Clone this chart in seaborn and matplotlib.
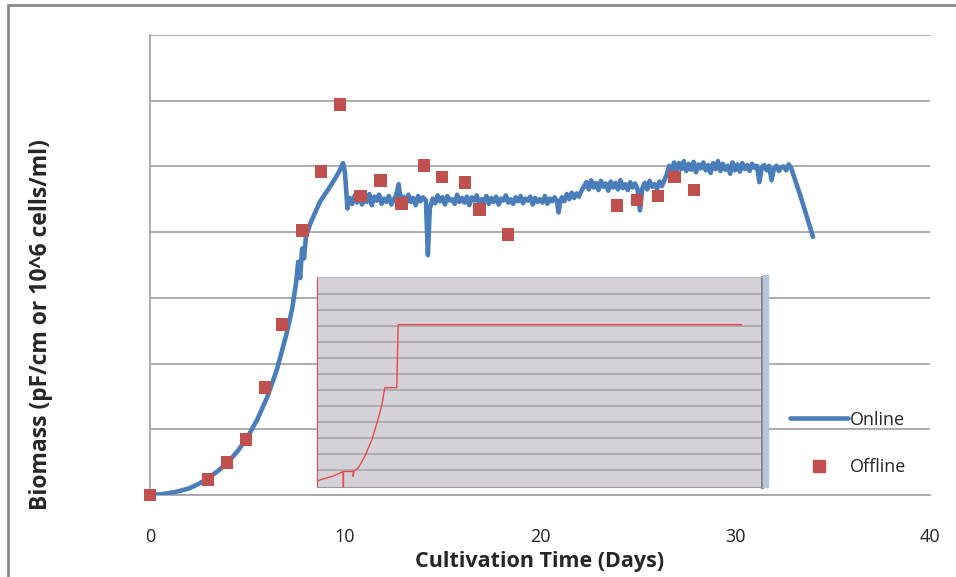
import matplotlib
matplotlib.use("Agg")
import matplotlib.pyplot as plt
import seaborn as sns
import pandas as pd
from matplotlib.lines import Line2D
from matplotlib.ticker import MultipleLocator

# online probe trace (days, biomass)
growth_day = [0, 0.5, 1.0, 1.5, 2.0, 2.5, 3.0, 3.5, 4.0, 4.5, 5.0, 5.5, 6.0, 6.5, 7.0, 7.3,
              7.5, 7.6, 7.7, 7.8, 7.9, 8.0, 8.25, 8.5, 8.75, 9.0, 9.25, 9.5, 9.75, 9.9, 10.0]
growth_biomass = [0.0, 0.1, 0.3, 0.6, 1.0, 1.7, 2.6, 3.7, 5.0, 6.7, 8.8, 11.5, 14.8, 19.0, 24.5, 28.5,
                  32.5, 35.5, 33.0, 37.5, 36.0, 39.5, 41.5, 43.2, 44.8, 45.9, 47.0, 48.2, 49.5, 50.5, 49.0]

plateau1_day = [10.125, 10.25, 10.375, 10.5, 10.625, 10.75, 10.875, 11.0, 11.125, 11.25, 11.375,
                11.5, 11.625, 11.75, 11.875, 12.0, 12.125, 12.25, 12.375, 12.5, 12.625, 12.75,
                12.875, 13.0, 13.125, 13.25, 13.375, 13.5, 13.625, 13.75, 13.875, 14.0,
                14.15, 14.25, 14.35]
plateau1_biomass = [43.6, 45.2, 44.3, 45.6, 44.5, 45.9, 44.2, 45.3, 44.6, 45.8, 44.1,
                    45.4, 44.8, 45.7, 44.3, 45.1, 44.6, 45.5, 44.2, 45.0, 45.6, 47.3,
                    44.5, 45.4, 44.3, 45.7, 44.6, 45.2, 44.1, 45.5, 44.7, 45.3,
                    44.8, 36.5, 43.6]

plateau2_day = [14.5, 14.625, 14.75, 14.875, 15.0, 15.125, 15.25, 15.375, 15.5, 15.625,
                15.75, 15.875, 16.0, 16.125, 16.25, 16.375, 16.5, 16.625, 16.75, 16.875,
                17.0, 17.125, 17.25, 17.375, 17.5, 17.625, 17.75, 17.875, 18.0, 18.125,
                18.25, 18.375, 18.5, 18.625, 18.75, 18.875, 19.0, 19.125, 19.25, 19.375,
                19.5, 19.625, 19.75, 19.875, 20.0, 20.125, 20.25, 20.375, 20.5, 20.625,
                20.75, 20.875, 20.95, 21.05, 21.125, 21.25, 21.375, 21.5, 21.625, 21.75,
                21.875, 22.0, 22.125]
plateau2_biomass = [45.1, 44.4, 45.6, 44.7, 45.3, 44.2, 45.5, 44.8, 45.0, 44.3,
                    45.7, 44.6, 45.2, 44.5, 45.4, 44.1, 45.3, 44.8, 45.6, 44.4,
                    45.0, 44.7, 45.5, 44.3, 45.2, 44.6, 45.4, 44.2, 45.1, 44.8,
                    45.6, 44.5, 45.0, 44.3, 45.3, 44.7, 45.5, 44.4, 45.1, 44.8,
                    45.4, 44.2, 45.2, 44.6, 45.0, 44.5, 45.5, 44.3, 45.1, 44.7,
                    45.3, 44.6, 43.0, 44.9, 45.3, 44.7, 45.8, 45.0, 46.0, 45.2,
                    45.9, 45.4, 46.3]

plateau3_day = [22.25, 22.375, 22.5, 22.625, 22.75, 22.875, 23.0, 23.125, 23.25, 23.375,
                23.5, 23.625, 23.75, 23.875, 24.0, 24.125, 24.25, 24.375, 24.5, 24.625,
                24.75, 24.875, 25.0, 25.125, 25.25, 25.375, 25.5, 25.625, 25.75, 25.875,
                26.0, 26.125, 26.25, 26.375]
plateau3_biomass = [46.9, 47.6, 46.5, 47.9, 46.8, 47.5, 46.4, 47.8, 46.9, 47.4,
                    46.3, 47.7, 46.8, 47.5, 46.5, 47.9, 46.7, 47.3, 46.4, 47.6,
                    46.8, 47.4, 46.6, 43.3, 46.7, 47.5, 46.5, 47.8, 46.9, 47.3,
                    46.6, 47.7, 47.0, 47.9]

plateau4_day = [26.5, 26.625, 26.75, 26.875, 27.0, 27.125, 27.25, 27.375, 27.5, 27.625,
                27.75, 27.875, 28.0, 28.125, 28.25, 28.375, 28.5, 28.625, 28.75, 28.875,
                29.0, 29.125, 29.25, 29.375, 29.5, 29.625, 29.75, 29.875, 30.0, 30.125,
                30.25, 30.375, 30.5, 30.625, 30.75, 30.875, 31.0, 31.125, 31.25, 31.375,
                31.5, 31.625, 31.75, 31.875, 32.0, 32.125, 32.25, 32.375, 32.5, 32.625,
                32.75, 32.875, 33.1, 33.4, 33.7, 34.0]
plateau4_biomass = [48.8, 50.1, 49.4, 50.6, 49.2, 50.5, 49.6, 50.8, 49.3, 50.4,
                    49.5, 50.7, 49.1, 50.3, 49.7, 50.6, 49.4, 50.2, 49.0, 50.5,
                    49.6, 50.8, 49.3, 50.4, 49.5, 50.1, 48.9, 50.6, 49.4, 50.3,
                    49.2, 50.5, 49.6, 50.2, 49.3, 50.4, 49.8, 50.1, 47.6, 49.9,
                    50.2, 49.4, 50.1, 47.9, 49.7, 50.1, 49.3, 49.9, 50.0, 49.4,
                    50.3, 49.8, 47.8, 45.1, 42.2, 39.3]

# offline samples
offline_day = [0, 2.97, 3.95, 4.92, 5.9, 6.77, 7.8, 8.77, 9.74, 10.8, 11.8, 12.9, 14.05,
               14.97, 16.15, 16.9, 18.36, 23.95, 24.97, 26.05, 26.9, 27.9]
offline_biomass = [0, 2.3, 5.0, 8.5, 16.4, 25.9, 40.2, 49.2, 59.4, 45.5, 47.9, 44.3, 50.1,
                   48.4, 47.5, 43.5, 39.6, 44.1, 44.9, 45.5, 48.4, 46.4]

# small embedded chart
inset_x = [0, 3.5, 6.0, 6.0, 6.0, 8.2, 8.2, 8.4, 9.4, 10.9, 12.4, 13.6, 14.6, 15.3, 18.0, 18.3, 95.5]
inset_y = [0.31, 0.6, 0.9, -0.2, 0.9, 0.9, 0.6, 0.95, 1.15, 1.9, 2.9, 4.0, 5.0, 6.15, 6.15, 10.1, 10.1]

x_ticks = [0, 10, 20, 30, 40]

BLUE = "#4a7ebb"
RED = "#c0504d"
GRID = "#a6a6a6"


def draw_main(fig):
    ax = fig.add_axes([150 / 956, 1 - 495 / 577, 780 / 956, 460 / 577])
    online = pd.DataFrame({
        "day": growth_day + plateau1_day + plateau2_day + plateau3_day + plateau4_day,
        "biomass": growth_biomass + plateau1_biomass + plateau2_biomass + plateau3_biomass + plateau4_biomass,
    })
    offline = pd.DataFrame({"day": offline_day, "biomass": offline_biomass})

    sns.lineplot(data=online, x="day", y="biomass", ax=ax, color=BLUE, linewidth=3.3,
                 estimator=None, zorder=3)
    sns.scatterplot(data=offline, x="day", y="biomass", ax=ax, color=RED, marker="s", s=85,
                    edgecolor="none", zorder=4, clip_on=False)

    ax.set_xlim(0, 40)
    ax.set_ylim(0, 70)
    ax.set_xticks(x_ticks)
    ax.set_yticks(range(0, 71, 10))
    ax.set_yticklabels([])
    ax.grid(axis="y", color=GRID, linewidth=1.3)
    ax.grid(axis="x", visible=False)
    ax.set_axisbelow(True)
    for side in ["top", "right"]:
        ax.spines[side].set_visible(False)
    for side in ["left", "bottom"]:
        ax.spines[side].set_color(GRID)
        ax.spines[side].set_linewidth(1.3)
    ax.tick_params(axis="both", direction="out", length=6, width=1.2, color=GRID,
                   labelsize=13, labelcolor="#222222")
    ax.tick_params(axis="x", pad=18)

    ax.set_xlabel("Cultivation Time (Days)", fontsize=15.5, fontweight="bold")
    ax.xaxis.set_label_coords(0.5, -0.122)
    ax.set_ylabel("Biomass (pF/cm or 10^6 cells/ml)", fontsize=16.5, fontweight="bold")
    ax.yaxis.set_label_coords(-0.124, 0.37)

    handles = [Line2D([], [], color=BLUE, linewidth=3.3),
               Line2D([], [], color=RED, marker="s", markersize=8, linestyle="none")]
    ax.legend(handles, ["Online", "Offline"], loc="center left", bbox_to_anchor=(0.8, 0.112),
              frameon=False, fontsize=13, handlelength=3.2, handletextpad=0.1, labelspacing=1.65)
    return ax


def draw_inset(fig):
    ins = fig.add_axes([316.7 / 956, 1 - 486.7 / 577, 445 / 956, 210 / 577])
    ins.set_facecolor("#d5d1d8")
    sns.lineplot(x=inset_x, y=inset_y, ax=ins, color="#e8484a", linewidth=1.0,
                 sort=False, estimator=None)
    ins.set_xlim(0, 100)
    ins.set_ylim(-0.05, 13.1)
    ins.set_yticks(range(1, 13))
    ins.set_yticklabels([])
    ins.yaxis.set_minor_locator(MultipleLocator(0.25))
    ins.set_xticks([])
    ins.xaxis.set_minor_locator(MultipleLocator(2.2))
    ins.grid(axis="y", color="#a3a1a6", linewidth=1.1)
    ins.tick_params(axis="y", which="major", length=0)
    ins.tick_params(axis="y", which="minor", length=2, color="#e8484a", direction="in")
    ins.tick_params(axis="x", which="minor", length=3, color="#9a9a9a", direction="in")
    ins.spines["left"].set_color("#e8484a")
    ins.spines["bottom"].set_color("#9a9a9a")
    ins.spines["top"].set_color("#b8b6ba")
    ins.spines["right"].set_color("#858588")
    ins.spines["right"].set_linewidth(2.2)
    ins.set_xlabel("")
    ins.set_ylabel("")
    # shadow strip on the right
    fig.add_artist(plt.Rectangle((763 / 956, 1 - 487 / 577), 4.5 / 956, 212 / 577,
                                 transform=fig.transFigure, color="#b3c6da", zorder=1))
    return ins


def main():
    sns.set_style("white")
    plt.rcParams["font.family"] = ["Open Sans", "DejaVu Sans"]
    fig = plt.figure(figsize=(9.56, 5.77), dpi=100)

    draw_main(fig)
    draw_inset(fig)

    # outer frame of the pasted chart
    fig.add_artist(Line2D([8 / 956, 1], [1 - 5 / 577, 1 - 5 / 577], transform=fig.transFigure,
                          color="#8c8c8c", linewidth=2))
    fig.add_artist(Line2D([8 / 956, 8 / 956], [0, 1 - 5 / 577], transform=fig.transFigure,
                          color="#8c8c8c", linewidth=2))

    fig.savefig("out.png", dpi=100)


if __name__ == "__main__":
    main()
